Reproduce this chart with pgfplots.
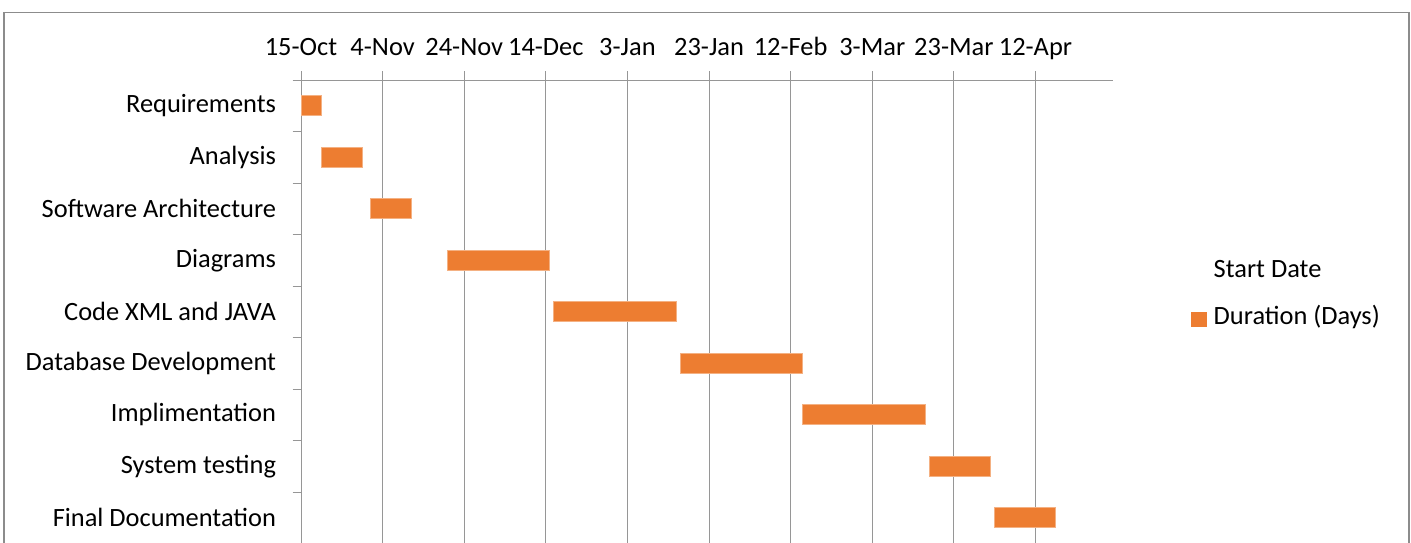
\documentclass[border=0pt]{standalone}
\usepackage{pgfplots}
\pgfplotsset{compat=1.18}
\usepackage{fontspec}
\setmainfont{Carlito}
\definecolor{barorange}{HTML}{ED7D31}
\definecolor{baredge}{HTML}{F4B183}
\definecolor{gridgray}{HTML}{969696}
\definecolor{framegray}{HTML}{8C8C8C}

\pgfplotstableread{
y start dur
8 0 5
7 5 10
6 17 10
5 36 25
4 62 30
3 93 30
2 123 30
1 154 15
0 170 15
}\gantt

\begin{document}
\begin{tikzpicture}[font=\fontsize{26.4}{31}\selectfont]
\useasboundingbox (0,0) rectangle (1411pt,542pt);
\draw[framegray, line width=1.2pt] (4pt,-20pt) -- (4pt,529.3pt) -- (1409pt,529.3pt) -- (1409pt,-20pt);
\begin{axis}[
  at={(301pt,-1.5pt)}, anchor=south west,
  scale only axis, width=812pt, height=463.5pt,
  xmin=0, xmax=199, ymin=-0.5, ymax=8.5,
  xbar stacked, bar width=20pt,
  axis x line*=top, axis y line*=left,
  axis line style={gridgray, line width=1pt},
  xtick={0,20,...,180},
  xticklabels={15-Oct,4-Nov,24-Nov,14-Dec,3-Jan,23-Jan,12-Feb,3-Mar,23-Mar,12-Apr},
  xticklabel pos=top,
  ytick={0,...,8},
  yticklabels={Final Documentation,System testing,Implimentation,Database Development,Code XML and JAVA,Diagrams,Software Architecture,Analysis,Requirements},
  minor ytick={-0.5,0.5,...,8.5},
  tick align=outside,
  major tick length=8.5pt, minor tick length=8.5pt,
  tick style={gridgray, line width=1pt},
  major y tick style={draw=none},
  xmajorgrids,
  major grid style={gridgray, line width=1pt},
  yticklabel style={xshift=-13pt},
  xticklabel style={text depth=0pt, yshift=12.5pt},
  legend style={draw=none, fill=none, at={(1.0961,0.5383)}, anchor=west,
    inner sep=0pt, row sep=21.6pt,
    nodes={inner sep=0pt, text height=20pt, text depth=6pt}},
  legend cell align=left,
]
\addplot[draw=none, fill=none, legend image code/.code={\path[draw=none,fill=none] (0pt,0pt) rectangle (22pt,1pt);}] table[x=start, y=y] {\gantt};
\addplot[fill=barorange, draw=baredge, line width=1pt, legend image code/.code={\path[draw=none,fill=none] (0pt,0pt) -- (22pt,0pt); \fill[barorange] (0pt,-9pt) rectangle (15pt,5pt);}] table[x=dur, y=y] {\gantt};
\legend{Start Date, Duration (Days)}
\end{axis}
\end{tikzpicture}
\end{document}
